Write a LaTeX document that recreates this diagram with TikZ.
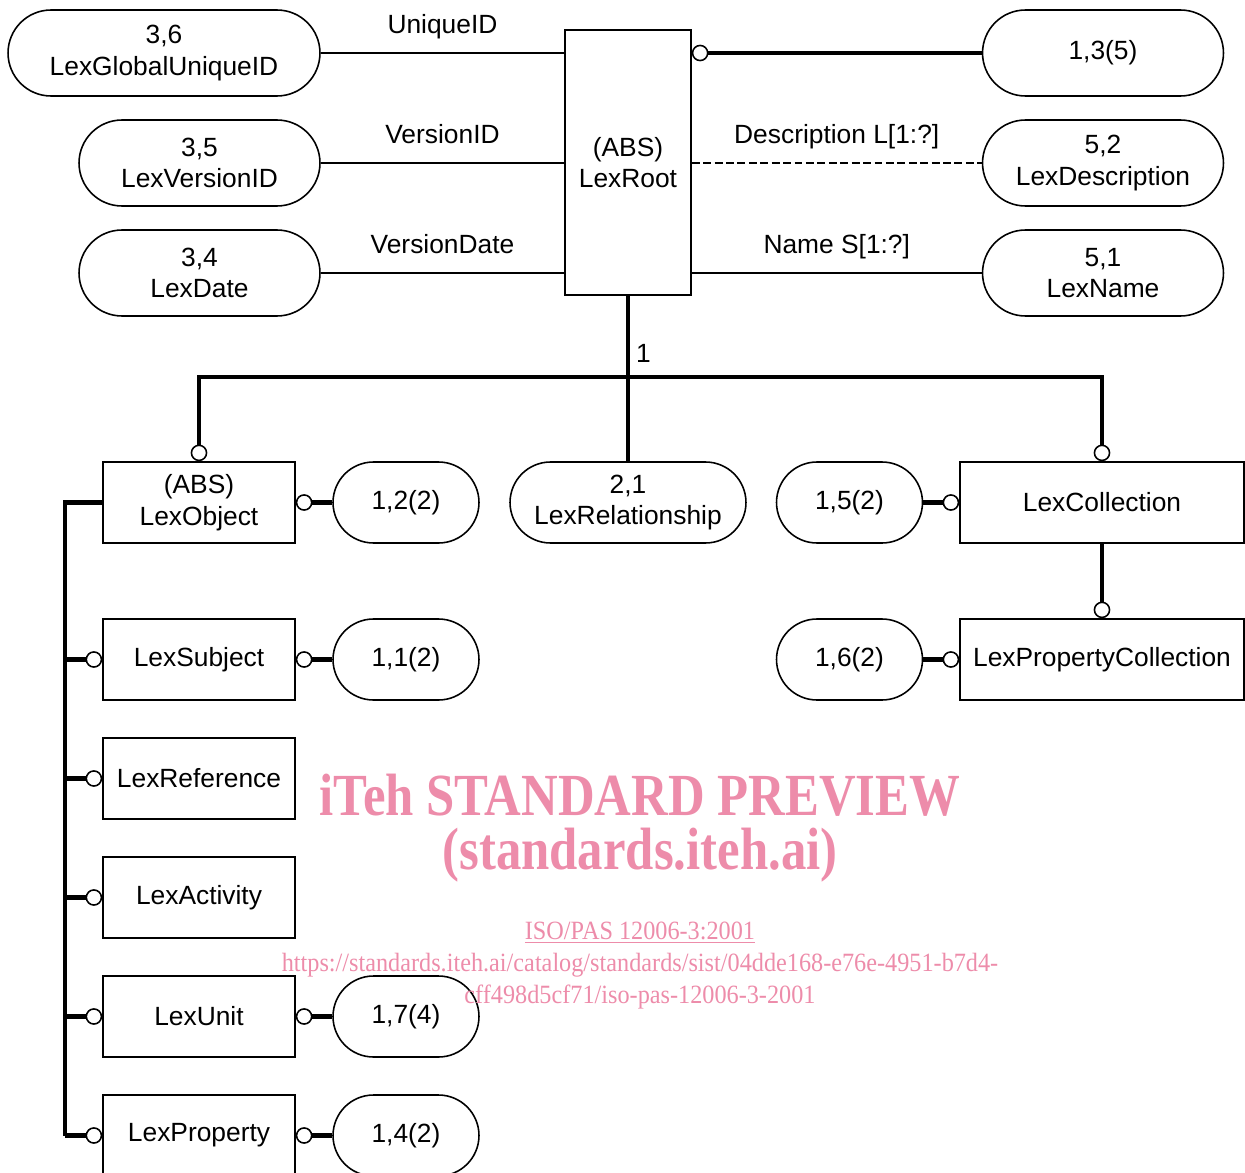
\documentclass[tikz,border=0pt]{standalone}
\usepackage{fontspec}
\setmainfont{Liberation Sans}
\newfontfamily\wmfont{Liberation Serif}
\usepackage{xcolor}
\usetikzlibrary{arrows.meta,shapes.misc}
\definecolor{wmpink}{RGB}{237,140,170}

\begin{document}
\begin{tikzpicture}[x=0.02cm,y=-0.02cm,
  font=\fontsize{15}{18}\selectfont,
  ent/.style={draw,line width=0.9pt,minimum width=3.84cm,minimum height=1.62cm,align=center,inner sep=0pt},
  term/.style={draw,rounded rectangle,line width=0.9pt,minimum width=4.82cm,minimum height=1.72cm,align=center,inner sep=0pt},
  sterm/.style={term,minimum width=2.92cm,minimum height=1.62cm},
  thinln/.style={line width=0.9pt},
  heavyln/.style={line width=2.5pt},
  oc/.tip={Circle[open,length=9.5pt,width=9.5pt,line width=0.9pt]},
  lbl/.style={anchor=base,yshift=0.4cm},
  wm/.style={text=wmpink,align=center,inner sep=0pt}]
\useasboundingbox (0,0) rectangle (1245,1173);

% root and its attributes
\node[ent,minimum width=2.52cm,minimum height=5.3cm] (root) at (628,162.5) {(ABS)\\LexRoot};
\node[term,minimum width=6.24cm] (gid) at (164,53) {3,6\\LexGlobalUniqueID};
\node[term] (vid) at (199.5,163) {3,5\\LexVersionID};
\node[term] (vdate) at (199.5,273) {3,4\\LexDate};
\node[term] (t13) at (1103,53) {1,3(5)};
\node[term] (desc) at (1103,163) {5,2\\LexDescription};
\node[term] (name) at (1103,273) {5,1\\LexName};

% second level
\node[ent] (obj) at (199,502.5) {(ABS)\\LexObject};
\node[sterm] (t12) at (406,502.5) {1,2(2)};
\node[term,minimum width=4.72cm,minimum height=1.62cm] (rel) at (628,502.5) {2,1\\LexRelationship};
\node[sterm] (t15) at (849.5,502.5) {1,5(2)};
\node[ent,minimum width=5.68cm] (coll) at (1102,502.5) {LexCollection};
\node[ent,minimum width=5.68cm] (pcoll) at (1102,659.5) {LexPropertyCollection};
\node[sterm] (t16) at (849.5,659.5) {1,6(2)};

% subtypes of LexObject
\node[ent] (subj) at (199,659.5) {LexSubject};
\node[sterm] (t11) at (406,659.5) {1,1(2)};
\node[ent] (ref) at (199,778.5) {LexReference};
\node[ent] (act) at (199,897.5) {LexActivity};
\node[ent] (unit) at (199,1016.5) {LexUnit};
\node[sterm] (t17) at (406,1016.5) {1,7(4)};
\node[ent] (prop) at (199,1135.5) {LexProperty};
\node[sterm] (t14) at (406,1135.5) {1,4(2)};

\draw[thinln] (gid.east) -- (gid.east -| root.west) node[lbl,midway]{UniqueID};
\draw[thinln] (vid.east) -- (vid.east -| root.west) node[lbl,midway]{VersionID};
\draw[thinln] (vdate.east) -- (vdate.east -| root.west) node[lbl,midway]{VersionDate};
\draw[heavyln,oc-] (t13.west -| root.east) -- (t13.west);
\draw[line width=0.7pt,dash pattern=on 4.5pt off 2pt] (desc.west -| root.east) -- (desc.west) node[lbl,midway]{Description L[1:?]};
\draw[thinln] (name.west -| root.east) -- (name.west) node[lbl,midway]{Name S[1:?]};

\draw[heavyln] (root.south) -- (rel.north) node[pos=0.35,right]{1};
\draw[heavyln,oc-oc] (obj.north) -- ++(0,-84) -| (coll.north);
\draw[heavyln,-oc] (t12.west) -- (obj.east);
\draw[heavyln,-oc] (t15.east) -- (coll.west);
\draw[heavyln,-oc] (coll.south) -- (pcoll.north);
\draw[heavyln,-oc] (t16.east) -- (pcoll.west);
\draw[heavyln,-oc] (t11.west) -- (subj.east);
\draw[heavyln,-oc] (t17.west) -- (unit.east);
\draw[heavyln,-oc] (t14.west) -- (prop.east);

\draw[heavyln] (obj.west) -- ++(-37,0) coordinate (bus) -- (bus |- prop.west);
\foreach \n in {subj,ref,act,unit,prop}
  \draw[heavyln,-oc] (bus |- \n.west) -- (\n.west);

% watermark
\node[wm,font=\wmfont\bfseries\fontsize{34}{40}\selectfont] (wm1) at (640,795) {\scalebox{0.85}[1]{iTeh STANDARD PREVIEW}};
\node[wm,font=\wmfont\bfseries\fontsize{34}{40}\selectfont] (wm2) at (640,855) {\scalebox{0.85}[1]{(standards.iteh.ai)}};
\node[wm,font=\wmfont\fontsize{15}{18}\selectfont] (wm3) at (640,933) {\scalebox{0.92}[1]{\underline{ISO/PAS 12006-3:2001}}};
\node[wm,font=\wmfont\fontsize{15}{18.1}\selectfont] (wm4) at (640,981) {\scalebox{0.92}[1]{https://standards.iteh.ai/catalog/standards/sist/04dde168-e76e-4951-b7d4-}\\\scalebox{0.92}[1]{cff498d5cf71/iso-pas-12006-3-2001}};
\end{tikzpicture}
\end{document}
